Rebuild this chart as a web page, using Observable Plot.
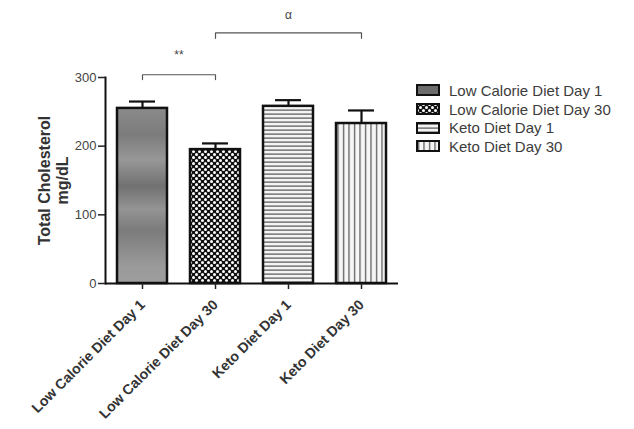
<!DOCTYPE html>
<html><head><meta charset="utf-8">
<script src="https://cdn.jsdelivr.net/npm/d3@7"></script>
<script src="https://cdn.jsdelivr.net/npm/@observablehq/plot@0.6"></script>
<style>
body{margin:0;background:#fff;font-family:Arial,"Liberation Sans",sans-serif;}
#wrap{position:relative;width:634px;height:429px;}
#legend{position:absolute;left:416px;top:81px;}
.row{display:flex;align-items:center;height:18.7px;}
.row svg{margin-right:9px;display:block}
.row span{font-size:15px;color:#3c3c3c;white-space:nowrap;}
</style></head><body><div id="wrap"><div id="chart"></div><div id="legend"></div></div>
<script>
const groups = ["Low Calorie Diet Day 1", "Low Calorie Diet Day 30", "Keto Diet Day 1", "Keto Diet Day 30"];
const means = [255, 195, 258, 233];
const sems = [10, 9, 9, 19];
const fills = ["url(#grad-lc1)", "url(#pat-lc30)", "url(#pat-k1)", "url(#pat-k30)"];
const legendFills = ["#6c6c6c", "url(#pat-lc30)", "url(#pat-k1)", "url(#pat-k30)"];
const yTicks = [0, 100, 200, 300];
const bracketFrom = [groups[0], groups[1]];
const bracketTo = [groups[1], groups[3]];
const bracketTop = [304, 365];
const bracketDrop = [297, 357];
const bracketLabels = ["**", "α"];
const bracketLabelY = [333, 391];

const data = groups.map((g, i) => ({group: g, mean: means[i], top: means[i] + sems[i], fill: fills[i]}));
const bracketPts = [];
bracketFrom.forEach((f, i) => {
  bracketPts.push({k: i, x: f, y: bracketDrop[i]}, {k: i, x: f, y: bracketTop[i]},
                  {k: i, x: bracketTo[i], y: bracketTop[i]}, {k: i, x: bracketTo[i], y: bracketDrop[i]});
});
const bracketText = bracketLabels.map((l, i) => ({label: l, y: bracketLabelY[i], from: bracketFrom[i], to: bracketTo[i]}));

const svg = Plot.plot({
  width: 634, height: 429,
  marginLeft: 105, marginRight: 236, marginTop: 77, marginBottom: 146,
  style: {fontFamily: "Arial, 'Liberation Sans', sans-serif", color: "#222", background: "#fff"},
  x: {domain: groups, paddingInner: 0.317, paddingOuter: 0.157, label: null},
  y: {domain: [0, 300], label: null},
  color: {type: "identity"},
  marks: [
    Plot.ruleX(data, {x: "group", y1: "mean", y2: "top", strokeWidth: 2.2, stroke: "#111"}),
    Plot.tickY(data, {x: "group", y: "top", insetLeft: 12, insetRight: 12, strokeWidth: 2.2, stroke: "#111"}),
    Plot.barY(data, {x: "group", y: "mean", fill: "fill", stroke: "#111", strokeWidth: 2.5}),
    Plot.ruleY([0], {strokeWidth: 2, stroke: "#111"}),
    Plot.frame({anchor: "left", strokeWidth: 2, stroke: "#111"}),
    Plot.axisY({ticks: yTicks, tickSize: 7, tickPadding: 2, fontSize: 13, stroke: "#222", strokeWidth: 1.5, fill: "#444", label: null}),
    Plot.axisX({tickRotate: -45, tickSize: 6, tickPadding: 13, fontSize: 14.2, fontWeight: "bold", fill: "#333", stroke: "#222", strokeWidth: 1.5, label: null}),
    Plot.text(["Total Cholesterol\nmg/dL"], {frameAnchor: "left", textAnchor: "middle", rotate: -90, dx: -52, fontSize: 16, fontWeight: "bold", lineHeight: 1.12, fill: "#333"}),
    Plot.line(bracketPts, {x: "x", y: "y", z: "k", stroke: "#555", strokeWidth: 1.2}),
    Plot.text(bracketText, {x: "from", y: "y", text: "label", fontSize: 12, fill: "#444"})
  ]
});
document.getElementById("chart").appendChild(svg);

// center each bracket label between its two groups using the plot's x scale
const xs = svg.scale("x");
const bw = xs.bandwidth || 0;
d3.select(svg).selectAll("text").each(function() {
  const i = bracketLabels.indexOf(this.textContent);
  if (i < 0) return;
  const t = bracketText[i];
  const mid = (xs.apply(t.from) + xs.apply(t.to)) / 2 + bw / 2;
  const cur = xs.apply(t.from) + bw / 2;
  const shift = mid - cur;
  const prev = this.getAttribute("transform") || "";
  this.setAttribute("transform", `translate(${shift},0) ${prev}`);
});

const defs = d3.select(svg).insert("defs", ":first-child");
const g1 = defs.append("linearGradient").attr("id", "grad-lc1").attr("gradientUnits", "userSpaceOnUse")
  .attr("x1", 0).attr("y1", 107).attr("x2", 0).attr("y2", 283);
[[0, "#8a8a8a"], [0.16, "#7c7c7c"], [0.3, "#979797"], [0.45, "#717171"], [0.58, "#949494"], [0.7, "#7b7b7b"],
 [0.8, "#8a8a8a"], [0.91, "#9b9b9b"], [1, "#9d9d9d"]]
  .forEach(([o, c]) => g1.append("stop").attr("offset", o).attr("stop-color", c));
const p2 = defs.append("pattern").attr("id", "pat-lc30").attr("patternUnits", "userSpaceOnUse").attr("width", 6).attr("height", 6);
p2.append("rect").attr("width", 6).attr("height", 6).attr("fill", "#111");
p2.append("circle").attr("cx", 1.5).attr("cy", 1.5).attr("r", 1.5).attr("fill", "#fff");
p2.append("circle").attr("cx", 4.5).attr("cy", 4.5).attr("r", 1.5).attr("fill", "#fff");
const p3 = defs.append("pattern").attr("id", "pat-k1").attr("patternUnits", "userSpaceOnUse").attr("width", 6).attr("height", 4);
p3.append("rect").attr("width", 6).attr("height", 4).attr("fill", "#f4f4f4");
p3.append("rect").attr("y", 1.5).attr("width", 6).attr("height", 1.2).attr("fill", "#555");
const p4 = defs.append("pattern").attr("id", "pat-k30").attr("patternUnits", "userSpaceOnUse").attr("width", 5.5).attr("height", 6);
p4.append("rect").attr("width", 5.5).attr("height", 6).attr("fill", "#f6f6f6");
p4.append("rect").attr("x", 2).attr("width", 1.1).attr("height", 6).attr("fill", "#444");

const legend = d3.select("#legend");
groups.forEach((g, i) => {
  const row = legend.append("div").attr("class", "row");
  const s = row.append("svg").attr("width", 24).attr("height", 12);
  s.append("rect").attr("x", 1).attr("y", 1).attr("width", 22).attr("height", 10)
    .attr("fill", legendFills[i]).attr("stroke", "#111").attr("stroke-width", 2);
  row.append("span").text(g);
});
</script></body></html>
